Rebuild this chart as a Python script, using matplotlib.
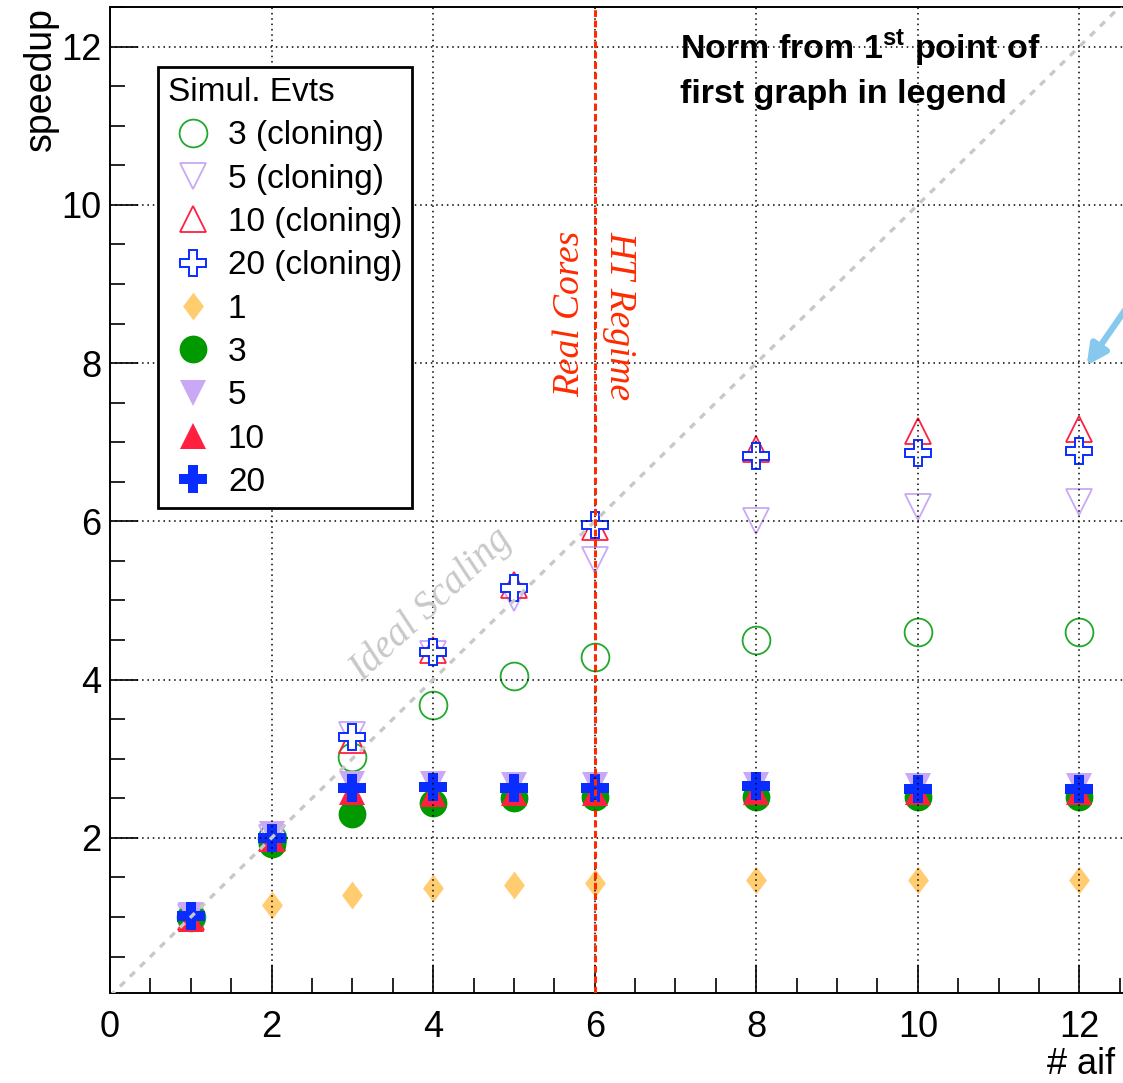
"""
Speedup vs number of aif threads, cloning vs non-cloning, ROOT-style look.
"""

import matplotlib
matplotlib.use("Agg")
import matplotlib.pyplot as plt
from matplotlib.lines import Line2D

plt.rcParams["font.family"] = ["Liberation Sans", "DejaVu Sans"]
plt.rcParams["mathtext.fontset"] = "custom"
plt.rcParams["mathtext.rm"] = "Liberation Sans:bold"
plt.rcParams["mathtext.bf"] = "Liberation Sans:bold"

# Data
nthreads = [1, 2, 3, 4, 5, 6, 8, 10, 12]
clone3 = [1.0, 2.0, 3.02, 3.68, 4.04, 4.29, 4.50, 4.60, 4.60]
clone5 = [1.0, 2.0, 3.30, 4.33, 5.03, 5.51, 6.00, 6.18, 6.25]
clone10 = [1.0, 2.0, 3.24, 4.38, 5.20, 5.93, 6.92, 7.14, 7.17]
clone20 = [1.0, 2.0, 3.28, 4.35, 5.16, 5.96, 6.82, 6.87, 6.89]
evt1 = [1.0, 1.15, 1.28, 1.37, 1.40, 1.43, 1.47, 1.47, 1.47]
evt3 = [1.0, 1.92, 2.30, 2.44, 2.50, 2.52, 2.52, 2.52, 2.52]
evt5 = [1.03, 2.05, 2.68, 2.68, 2.67, 2.67, 2.67, 2.66, 2.66]
evt10 = [0.98, 1.98, 2.58, 2.56, 2.57, 2.57, 2.58, 2.58, 2.58]
evt20 = [1.01, 2.00, 2.63, 2.64, 2.63, 2.63, 2.65, 2.62, 2.62]

labels = ["3 (cloning)", "5 (cloning)", "10 (cloning)", "20 (cloning)",
          "1", "3", "5", "10", "20"]

GREEN_OPEN = "#22a82c"
GREEN = "#009900"
PURPLE = "#c9a8f5"
RED = "#ff2040"
BLUE = "#0a2dff"
ORANGE = "#ffcc70"
LINE_RED = "#ff2a00"

# ROOT-like diamond, a bit wider than matplotlib's thin diamond
DIAMOND = [(0, 1), (0.75, 0), (0, -1), (-0.75, 0), (0, 1)]

fig = plt.figure(figsize=(11.23, 10.83), dpi=100)
ax = fig.add_axes([110 / 1123, 1 - 993 / 1083, 1 - 110 / 1123, 986 / 1083])

series = [
    (clone3, dict(marker="o", ms=20, mfc="none", mec=GREEN_OPEN, mew=1.3)),
    (clone5, dict(marker="v", ms=19, mfc="none", mec=PURPLE, mew=1.3)),
    (clone10, dict(marker="^", ms=19, mfc="none", mec=RED, mew=1.3)),
    (clone20, dict(marker="P", ms=19, mfc="white", mec=BLUE, mew=1.4)),
    (evt1, dict(marker=DIAMOND, ms=20, mfc=ORANGE, mec=ORANGE, mew=0)),
    (evt3, dict(marker="o", ms=20, mfc=GREEN, mec=GREEN, mew=0)),
    (evt5, dict(marker="v", ms=19, mfc=PURPLE, mec=PURPLE, mew=0)),
    (evt10, dict(marker="^", ms=19, mfc=RED, mec=RED, mew=0)),
    (evt20, dict(marker="P", ms=20, mfc=BLUE, mec=BLUE, mew=0)),
]

handles = []
for (vals, style), lab in zip(series, labels):
    ax.plot(nthreads, vals, ls="none", zorder=2, **style)
    handles.append(Line2D([], [], ls="none", **style))

# ideal scaling diagonal
ax.plot([0, 13], [0, 13], color="#c8c8c8", ls=(0, (2, 2.2)), lw=2.4, zorder=3)
# real cores boundary
ax.axvline(6, color=LINE_RED, ls=(0, (2.2, 1.2)), lw=2.2, zorder=4)

ax.set_xlim(0, 12.54)
ax.set_ylim(0.04, 12.5)
ax.set_xticks([0, 2, 4, 6, 8, 10, 12])
ax.set_xticks([x * 0.5 for x in range(26)], minor=True)
ax.set_yticks([2, 4, 6, 8, 10, 12])
ax.set_yticks([y * 0.5 for y in range(1, 26)], minor=True)
ax.grid(True, which="major", color="black", ls=(0, (1, 2.5)), lw=1.1, zorder=3)
ax.set_axisbelow(False)
ax.tick_params(which="both", direction="in", width=1.2, labelsize=26)
ax.tick_params(which="major", length=20)
ax.tick_params(which="minor", length=11)
ax.tick_params(axis="x", pad=12)
ax.tick_params(axis="y", pad=6)
ax.spines["right"].set_visible(False)
for s in ["left", "bottom", "top"]:
    ax.spines[s].set_linewidth(1.4)

ax.text(5.69, 8.62, "Real Cores", rotation=90, color=LINE_RED, fontsize=27,
        family="Liberation Serif", style="italic", ha="center", va="center")
ax.text(6.31, 8.6, "HT Regime", rotation=-90, color=LINE_RED, fontsize=27,
        family="Liberation Serif", style="italic", ha="center", va="center")
ax.text(3.97, 4.95, "Ideal Scaling", rotation=43, color="#c8c8c8", fontsize=28,
        family="Liberation Serif", style="italic", ha="center", va="center")
ax.text(7.05, 12.24, "Norm from 1$^{\\mathbf{st}}$ point of\nfirst graph in legend",
        fontsize=24.5, fontweight="bold", ha="left", va="top", linespacing=1.45)

ax.annotate("", xy=(12.07, 7.94), xytext=(12.62, 8.75), annotation_clip=False,
            arrowprops=dict(arrowstyle="-|>", color="#86c8ee", lw=4.5,
                            mutation_scale=30))

leg = ax.legend(handles, labels, title="Simul. Evts", loc="upper left",
                bbox_to_anchor=(48 / 1013, 926 / 986), borderaxespad=0,
                fontsize=24, title_fontsize=24, numpoints=1, handlelength=1.5,
                handletextpad=0.3, labelspacing=0.37, borderpad=0.3,
                fancybox=False, framealpha=1, edgecolor="black",
                alignment="left")
leg.get_frame().set_linewidth(2)
leg.set_zorder(6)

fig.text(41 / 1123, 1 - 7 / 1083, "speedup", rotation=90, ha="center",
         va="top", fontsize=27)
fig.text(1047 / 1123, 1 / 1083, "# aif", ha="left", va="bottom",
         fontsize=26)

fig.savefig("out.png", dpi=100)
